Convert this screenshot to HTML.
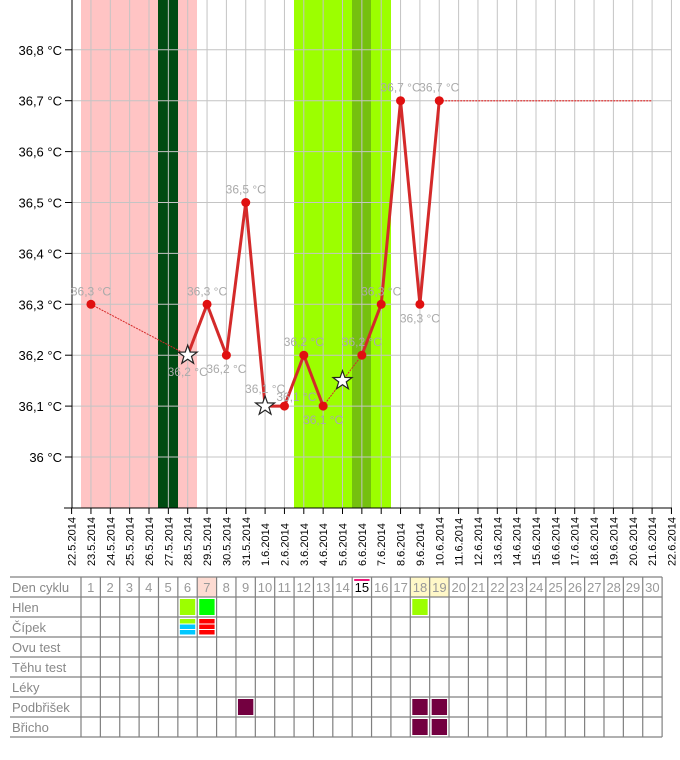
<!DOCTYPE html>
<html><head><meta charset="utf-8"><style>
body{margin:0;background:#fff;width:680px;height:760px;overflow:hidden;font-family:"Liberation Sans",sans-serif}
svg{position:absolute;left:0;top:0}
</style></head><body>
<svg id="s" width="680" height="760" xmlns="http://www.w3.org/2000/svg" font-family="Liberation Sans, sans-serif"></svg>
<script>
const X=i=>71.6+i*19.35, Y=v=>457-(v-36)*509;
let h='';
h+=`<rect x="81" y="0" width="116" height="508" fill="#ffc4c4"/>`;
h+=`<rect x="158" y="0" width="20" height="508" fill="#004b12"/>`;
h+=`<rect x="294" y="0" width="97" height="508" fill="#9cff00"/>`;
h+=`<rect x="352" y="0" width="19" height="508" fill="#75c00f"/>`;
for(let i=1;i<=31;i++)h+=`<line x1="${X(i)}" y1="0" x2="${X(i)}" y2="508" stroke="#c4c4c4" stroke-width="1"/>`;
for(let k=0;k<=9;k++){let y=Y(36+k*0.1);if(y>0)h+=`<line x1="72" y1="${y}" x2="672" y2="${y}" stroke="#c4c4c4"/>`;}
h+=`<line x1="72" y1="0" x2="72" y2="508" stroke="#000"/><line x1="64" y1="508" x2="672" y2="508" stroke="#000"/>`;
const yl=['36 °C','36,1 °C','36,2 °C','36,3 °C','36,4 °C','36,5 °C','36,6 °C','36,7 °C','36,8 °C'];
yl.forEach((t,k)=>{let y=Y(36+k*0.1);h+=`<line x1="65" y1="${y}" x2="72" y2="${y}" stroke="#000"/><text x="62" y="${y+5}" font-size="13" text-anchor="end">${t}</text>`;});
const dates=['22.5','23.5','24.5','25.5','26.5','27.5','28.5','29.5','30.5','31.5','1.6','2.6','3.6','4.6','5.6','6.6','7.6','8.6','9.6','10.6','11.6','12.6','13.6','14.6','15.6','16.6','17.6','18.6','19.6','20.6','21.6','22.6'];
dates.forEach((d,i)=>{let x=X(i);h+=`<line x1="${x}" y1="508" x2="${x}" y2="514" stroke="#000"/><text transform="translate(${x+4},566) rotate(-90)" font-size="11">${d}.2014</text>`;});
const P=[[1,36.3],[6,36.2],[7,36.3],[8,36.2],[9,36.5],[10,36.1],[11,36.1],[12,36.2],[13,36.1],[14,36.15],[15,36.2],[16,36.3],[17,36.7],[18,36.3],[19,36.7]];
const pt=i=>P.find(p=>p[0]==i);
const seg=(a,b,thick)=>{let A=pt(a),B=pt(b);h+=`<line x1="${X(A[0])}" y1="${Y(A[1])}" x2="${X(B[0])}" y2="${Y(B[1])}" stroke="#d42a2a" stroke-width="${thick?3:1}" ${thick?'':'stroke-dasharray="2,1"'}/>`;};
seg(1,6,0);for(let i=6;i<13;i++)seg(i,i+1,1);seg(13,14,0);seg(14,15,0);for(let i=15;i<19;i++)seg(i,i+1,1);
h+=`<line x1="${X(19)}" y1="${Y(36.7)}" x2="${X(30)}" y2="${Y(36.7)}" stroke="#e05050" stroke-width="1.5" stroke-dasharray="2,1"/>`;
const star=(cx,cy)=>{let s='';for(let k=0;k<10;k++){let r=k%2?4:10,a=-Math.PI/2+k*Math.PI/5;s+=(cx+r*Math.cos(a)).toFixed(1)+','+(cy+r*Math.sin(a)).toFixed(1)+' ';}return `<polygon points="${s}" fill="#fff" stroke="#222" stroke-width="1.2"/>`;};
const stars=[6,10,14];
const lab={1:['36,3 °C',-9],6:['36,2 °C',21],7:['36,3 °C',-9],8:['36,2 °C',18],9:['36,5 °C',-9],10:['36,1 °C',-13],11:['36,1 °C',-5],12:['36,2 °C',-9],13:['36,1 °C',18],15:['36,2 °C',-9],16:['36,3 °C',-9],17:['36,7 °C',-9],18:['36,3 °C',18],19:['36,7 °C',-9]};
P.forEach(([i,v])=>{if(stars.includes(i))h+=star(X(i),Y(v));else h+=`<circle cx="${X(i)}" cy="${Y(v)}" r="4.5" fill="#e01010"/>`;});
for(const k in lab){let p=pt(+k),dx=(+k==11)?12:0;h+=`<text x="${X(+k)+dx}" y="${Y(p[1])+lab[k][1]}" font-size="12" fill="#aaa" text-anchor="middle">${lab[k][0]}</text>`;}
const tx=10,c0=81,cw=19.37,ty=577,rh=20;
const rows=['Den cyklu','Hlen','Čípek','Ovu test','Těhu test','Léky','Podbřišek','Břicho'];
h+=`<rect x="${c0+6*cw}" y="${ty}" width="${cw}" height="${rh}" fill="#fddbd2"/>`;
h+=`<rect x="${c0+17*cw}" y="${ty}" width="${cw*2}" height="${rh}" fill="#fff8c8"/>`;
const cell=(c,r,col,y0,hh)=>`<rect x="${c0+(c-1)*cw+2}" y="${ty+r*rh+(y0||2)}" width="${cw-4}" height="${hh||rh-4}" fill="${col}"/>`;
h+=cell(6,1,'#9cff00');h+=cell(7,1,'#00ff00');h+=cell(18,1,'#9cff00');
h+=cell(6,2,'#9cff00',2,4.5)+cell(6,2,'#00c8ff',7.5,4.5)+cell(6,2,'#00c8ff',13,4.5);
h+=cell(7,2,'#ff0000',2,4.5)+cell(7,2,'#ff0000',7.5,4.5)+cell(7,2,'#ff0000',13,4.5);
h+=cell(9,6,'#730040')+cell(18,6,'#730040')+cell(19,6,'#730040')+cell(18,7,'#730040')+cell(19,7,'#730040');
for(let r=0;r<=8;r++)h+=`<line x1="${tx}" y1="${ty+r*rh}" x2="${c0+30*cw}" y2="${ty+r*rh}" stroke="#808080" stroke-width="1.2"/>`;
for(let c=0;c<=30;c++)h+=`<line x1="${c0+c*cw}" y1="${ty}" x2="${c0+c*cw}" y2="${ty+8*rh}" stroke="#808080" stroke-width="1.2"/>`;
rows.forEach((t,r)=>h+=`<text x="12" y="${ty+r*rh+15}" font-size="13" fill="#888">${t}</text>`);
for(let c=1;c<=30;c++)h+=`<text x="${c0+(c-0.5)*cw}" y="${ty+15}" font-size="13" fill="${c==15?'#000':'#999'}" text-anchor="middle">${c}</text>`;
h+=`<rect x="${c0+14*cw+2}" y="${ty+2}" width="${cw-4}" height="2" fill="#f0147a"/>`;
document.getElementById('s').innerHTML=h;
</script>
</body></html>
